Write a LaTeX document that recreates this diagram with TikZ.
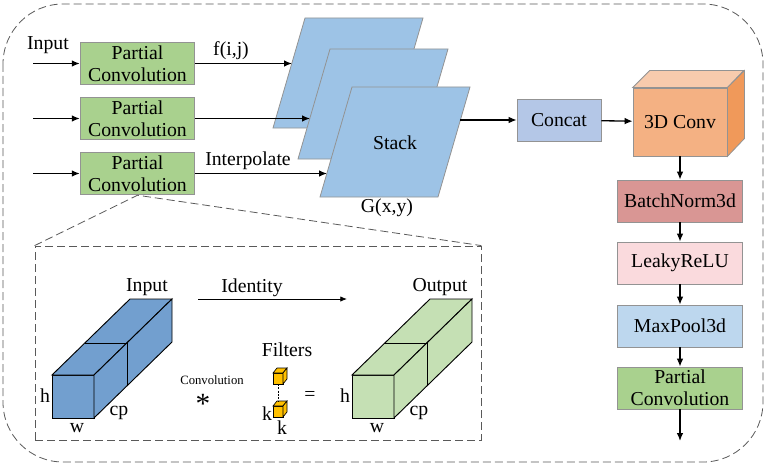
\documentclass[tikz,border=0pt]{standalone}
\usepackage{fontspec}
\setmainfont{Liberation Serif}
\usetikzlibrary{arrows.meta}
\definecolor{pcgreen}{HTML}{A9D18E}
\definecolor{stackblue}{HTML}{9DC3E6}
\definecolor{concatblue}{HTML}{B4C7E7}
\definecolor{convfront}{HTML}{F4B183}
\definecolor{convtop}{HTML}{F8CBAD}
\definecolor{convside}{HTML}{F0995A}
\definecolor{bnred}{HTML}{D99694}
\definecolor{relupink}{HTML}{FADADD}
\definecolor{poolblue}{HTML}{BDD7EE}
\definecolor{inblue}{HTML}{729FCF}
\definecolor{outgreen}{HTML}{C5E0B4}
\definecolor{filterorange}{HTML}{FFC000}
\newcommand{\longbox}[3][]{
  \begin{scope}[shift={#2},line width=0.7pt,#1]
    \draw[fill=#3] (0,0) rectangle (42,43);
    \draw[fill=#3] (0,0) -- (78,-76) -- (120,-76) -- (42,0) -- cycle;
    \draw[fill=#3] (42,0) -- (120,-76) -- (120,-33) -- (42,43) -- cycle;
    \draw (33,-32) -- (75,-32) -- (75,11);
  \end{scope}
}
\newcommand{\tinycube}[1]{
  \begin{scope}[shift={#1},line width=0.5pt]
    \foreach \f in {{(0,0) rectangle (10,11)},{(0,0) -- (4,-5) -- (14,-5) -- (10,0) -- cycle},{(10,0) -- (14,-5) -- (14,6) -- (10,11) -- cycle}}{
      \draw[fill=filterorange] \f;
    }
  \end{scope}
}

\begin{document}
\begin{tikzpicture}[x=0.75pt,y=-0.75pt,
    every node/.style={font=\fontsize{14.8}{16.5}\selectfont},
    box/.style={draw=gray!85, line width=0.6pt, minimum width=86pt, minimum height=32pt,
      align=center, inner sep=0pt},
    colbox/.style={box, minimum width=94pt, minimum height=31.5pt},
    plane/.style={draw=gray!85, line width=0.6pt, fill=stackblue},
    arr/.style={-{Latex[length=6pt,width=5pt]}, line width=1pt},
    thinarr/.style={-{Latex[length=5pt,width=4pt]}, line width=0.6pt}]
  \useasboundingbox (0,0) rectangle (767,467);
  \draw[gray!70!black, line width=0.6pt, dash pattern=on 6pt off 3pt, rounded corners=45pt] (3,4) rectangle (763,462);

  % partial convolutions
  \foreach \y [count=\i] in {63.5,118.5,173.5}{
    \node[box,fill=pcgreen] (pc\i) at (137.5,\y) {Partial\\Convolution};
    \coordinate (in\i) at (33,\y);
    \draw[arr] (in\i) -- (pc\i);
  }
  \node (inlbl) at (48,45) {Input};

  % stack
  \foreach \px/\py in {273/18,298/49,320/87}{
    \draw[plane] (\px,\py+110) -- (\px+32,\py) -- (\px+150,\py) -- (\px+118,\py+110) -- cycle;
  }
  \node (stk) at (395,143) {Stack};
  \node (gxy) at (387,208) {G(x,y)};
  \coordinate (s1) at (292,63.5);
  \coordinate (s2) at (310,118.5);
  \coordinate (s3) at (327,173.5);
  \foreach \i in {1,2,3}{
    \draw[arr] (pc\i) -- (s\i);
  }
  \node (flbl) at (231,51) {f(i,j)};
  \node (iplbl) at (248,161) {Interpolate};

  % right column
  \coordinate (sout) at (460,120);
  \node[box, minimum width=63pt, minimum height=31.5pt, fill=concatblue] (cat) at (559,120) {Concat};
  \node[box, minimum width=70.5pt, minimum height=51pt, fill=convfront] (conv) at (680,122) {3D Conv};
  \draw[draw=gray!85, line width=0.6pt, fill=convtop] (conv.north west) -- ++(17,-17) -- ++(94,0) -- (conv.north east) -- cycle;
  \draw[draw=gray!85, line width=0.6pt, fill=convside] (conv.north east) -- ++(17,-17) -- ++(0,68) -- (conv.south east) -- cycle;
  \node[colbox, fill=bnred] (bn) at (680,201) {BatchNorm3d};
  \node[colbox, fill=relupink] (relu) at (680,263) {LeakyReLU};
  \node[colbox, fill=poolblue] (pool) at (680,326) {MaxPool3d};
  \node[colbox, fill=pcgreen] (pc4) at (680,388) {Partial\\Convolution};
  \coordinate (out) at (680,441);
  \draw[arr] (sout) -- (cat);
  \draw[arr] (cat) -- (conv);
  \draw[arr] (conv) -- (bn);
  \draw[arr] (bn) -- (relu);
  \draw[arr] (relu) -- (pool);
  \draw[arr] (pool) -- (pc4);
  \draw[arr] (pc4) -- (out);

  % zoomed partial convolution
  \node[draw=gray!70!black, dash pattern=on 6pt off 3pt, line width=0.6pt,
    minimum width=334.5pt, minimum height=145.5pt] (zoom) at (258,343) {};
  \draw[gray!70!black, dash pattern=on 6pt off 3pt, line width=0.6pt] (zoom.north west) -- (pc3.south) -- (zoom.north east);
  \longbox{(52,375)}{inblue}
  \longbox{(352,375)}{outgreen}
  \node (inp) at (147,287) {Input};
  \node (outp) at (440,287) {Output};
  \foreach \dx/\nm in {0/a,300/b}{
    \node (h\nm) at (45+\dx,396) {h};
    \node (w\nm) at (77+\dx,428) {w};
    \node (cp\nm) at (119+\dx,413) {cp};
  }
  \coordinate (idA) at (198,299);
  \coordinate (idB) at (347,299);
  \draw[thinarr] (idA) -- (idB);
  \node (idlbl) at (252,288) {Identity};
  \node[font=\fontsize{9.5}{11}\selectfont] (convlbl) at (212,380) {Convolution};
  \node[font=\fontsize{22}{24}\selectfont] (star) at (203,404) {*};
  \node (flt) at (287,350) {Filters};
  \tinycube{(273,373)}
  \tinycube{(273,406)}
  \coordinate (ka) at (278.5,384);
  \coordinate (kb) at (278.5,401);
  \draw[dash pattern=on 1.5pt off 1pt, line width=0.8pt] (ka) -- (kb);
  \node (kl) at (267,414) {k};
  \node (kd) at (282,428) {k};
  \node (eq) at (310,396) {=};
\end{tikzpicture}
\end{document}
